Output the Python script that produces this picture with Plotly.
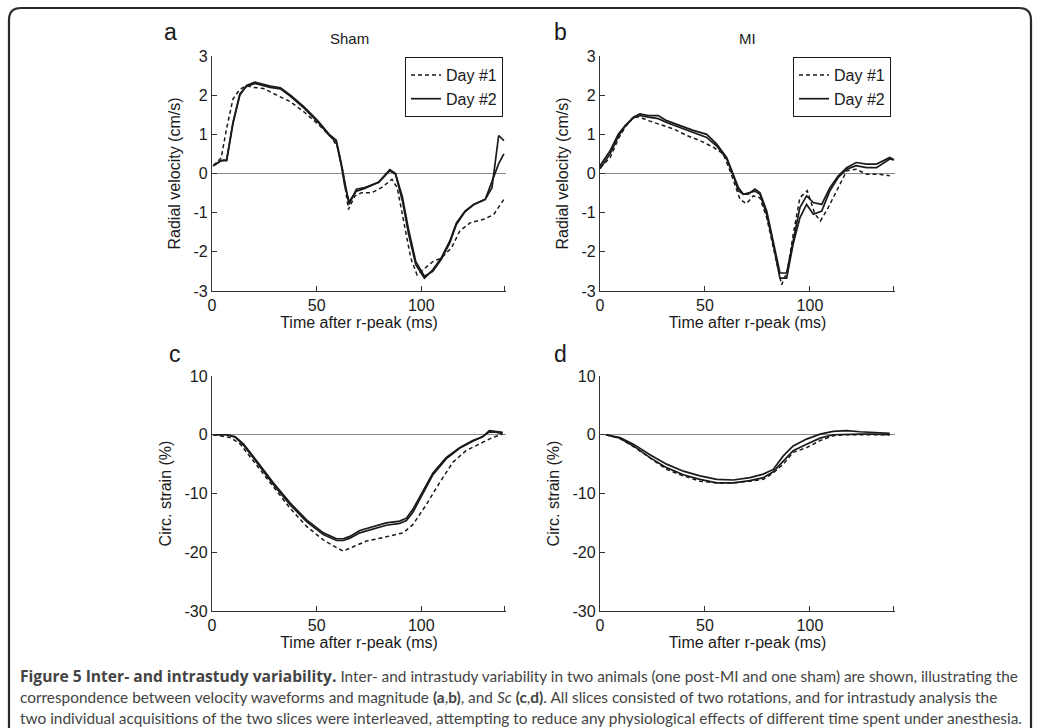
import plotly.graph_objects as go

W, H = 1040, 728

# ---------------- data ----------------
# Panel a (Sham, radial velocity, cm/s)
a_d1_x = [0.6, 4.4, 6.8, 10, 13.3, 16.5, 19.7, 24.6, 31, 37.5, 44, 50.5, 57, 60, 62.5, 65.2, 68.3, 71.5, 76.4, 81, 86, 88.5, 91.6, 95, 98, 101.5, 105.5, 109.5, 114.4, 118.4, 123.3, 129.8, 134.6, 139.5]
a_d1_y = [0.2, 0.4, 1.1, 1.9, 2.15, 2.24, 2.2, 2.17, 2.0, 1.83, 1.57, 1.27, 0.93, 0.67, 0.07, -0.92, -0.57, -0.49, -0.49, -0.36, -0.15, -0.36, -1.22, -2.16, -2.59, -2.42, -2.25, -2.16, -1.9, -1.47, -1.26, -1.17, -1.05, -0.66]
a_s_x = [0.6, 4.4, 7, 10, 13.3, 16.5, 20.5, 24.6, 27.8, 32.7, 37.5, 44, 50.5, 56, 59.4, 61.8, 63.4, 65.5, 69, 73, 79.6, 85, 87.7, 91, 94, 97.4, 101.5, 105.5, 109.5, 113.6, 116.8, 120.9, 125, 130.6, 133.8, 137, 139.5]
a_s1_y = [0.2, 0.33, 0.33, 1.27, 2.0, 2.25, 2.33, 2.27, 2.23, 2.19, 2.0, 1.7, 1.35, 1.0, 0.85, 0.25, -0.23, -0.79, -0.4, -0.36, -0.23, 0.07, -0.02, -0.7, -1.56, -2.33, -2.67, -2.46, -2.16, -1.73, -1.26, -0.96, -0.79, -0.66, -0.36, 0.97, 0.84]
a_s2_y = [0.2, 0.33, 0.35, 1.3, 2.03, 2.22, 2.3, 2.25, 2.2, 2.16, 1.97, 1.67, 1.32, 0.97, 0.8, 0.2, -0.3, -0.72, -0.45, -0.38, -0.22, 0.1, 0.0, -0.6, -1.45, -2.25, -2.62, -2.5, -2.2, -1.78, -1.3, -0.98, -0.8, -0.66, -0.2, 0.25, 0.5]

# Panel b (MI, radial velocity, cm/s)
b_d1_x = [0, 4.8, 8.7, 11.9, 15.9, 19, 23, 27.8, 34.9, 41.3, 47.6, 54, 58.7, 61.9, 64.3, 66.7, 69.8, 73, 76.2, 79.4, 83.3, 86.5, 89.2, 92, 95.2, 98.7, 102.4, 105, 108.7, 112.7, 117.5, 122, 127, 133, 138]
b_d1_y = [0.15, 0.4, 0.88, 1.18, 1.44, 1.44, 1.35, 1.27, 1.14, 0.97, 0.84, 0.67, 0.5, 0.07, -0.27, -0.66, -0.77, -0.57, -0.62, -1.13, -2.07, -2.84, -2.5, -1.56, -0.62, -0.44, -1.04, -1.21, -0.87, -0.44, 0.07, 0.11, -0.02, -0.02, -0.06]
b_s_x = [0, 4.8, 8.7, 11.9, 15.9, 19, 23, 27.8, 31.7, 38, 44.4, 50.8, 55.6, 60.3, 63.5, 65.9, 68.3, 70.6, 73.8, 76.2, 79.4, 82.5, 85.7, 88.9, 92, 95.2, 98.4, 101.6, 105.6, 109.5, 113.5, 117.5, 122, 127, 131.7, 138, 140]
b_s1_y = [0.2, 0.58, 1.0, 1.22, 1.44, 1.52, 1.48, 1.48, 1.35, 1.22, 1.1, 1.0, 0.75, 0.41, -0.02, -0.36, -0.53, -0.53, -0.4, -0.49, -0.96, -1.73, -2.54, -2.54, -1.73, -0.87, -0.57, -0.74, -0.79, -0.36, -0.06, 0.15, 0.28, 0.24, 0.24, 0.41, 0.35]
b_s2_y = [0.12, 0.5, 0.95, 1.2, 1.42, 1.48, 1.44, 1.4, 1.3, 1.18, 1.05, 0.92, 0.7, 0.38, -0.06, -0.44, -0.53, -0.5, -0.45, -0.53, -1.05, -1.81, -2.67, -2.67, -1.8, -1.13, -0.79, -1.04, -0.96, -0.44, -0.1, 0.11, 0.2, 0.15, 0.15, 0.37, 0.35]

# Panel c (Sham, circumferential strain, %)
c_s_x = [0.5, 7.1, 11.1, 15.1, 21.4, 29.4, 37.3, 45.2, 53.2, 59.5, 62.7, 65.9, 70.6, 77, 83.3, 89.7, 92.9, 96, 100.8, 105.6, 111.9, 118.3, 124.6, 129.4, 132.5, 135.7, 138.9]
c_s1_y = [0, 0, -0.34, -1.6, -4.46, -8.2, -11.6, -14.5, -16.7, -17.7, -17.7, -17.3, -16.3, -15.6, -15.0, -14.7, -14.2, -12.7, -9.6, -6.5, -3.9, -2.2, -1.0, -0.34, 0.69, 0.57, 0.4]
c_s2_y = [0, 0, -0.4, -1.8, -4.7, -8.5, -11.9, -14.8, -17.0, -18.0, -18.0, -17.6, -16.7, -16.0, -15.4, -15.1, -14.6, -13.2, -10.0, -6.8, -4.1, -2.3, -1.1, -0.3, 0.5, 0.45, 0.2]
c_d1_x = [0.5, 8.7, 13.5, 19.8, 29.4, 37.3, 45.2, 53.2, 59.5, 62.7, 65.9, 73.8, 81.7, 91.3, 96, 102.4, 108.7, 115.1, 121.4, 127.8, 134.1, 138.9]
c_d1_y = [0, -0.46, -1.6, -4.5, -9.0, -12.5, -15.6, -17.9, -19.2, -19.8, -19.3, -18.1, -17.5, -16.7, -15.3, -11.9, -8.2, -4.7, -2.7, -1.6, -0.46, 0.1]

# Panel d (MI, circumferential strain, %)
d_x = [2.8, 9.5, 15.9, 23.8, 31.7, 39.7, 47.6, 55.6, 63.5, 71.4, 77.8, 82.5, 87.3, 92, 98.4, 104.8, 111, 117.5, 123.8, 130.2, 138]
d_s1_y = [0, -0.46, -1.6, -3.4, -5.0, -6.2, -7.0, -7.6, -7.7, -7.3, -6.7, -5.9, -3.6, -1.9, -0.74, 0.11, 0.57, 0.69, 0.51, 0.4, 0.23]
d_s2_y = [0, -0.6, -1.9, -3.9, -5.6, -6.8, -7.6, -8.2, -8.2, -7.8, -7.3, -6.3, -4.5, -2.7, -1.6, -0.57, 0.0, 0.11, 0.11, 0.11, 0.0]
d_d1_y = [0, -0.65, -2.0, -4.0, -5.9, -7.0, -7.9, -8.2, -8.2, -7.9, -7.6, -6.5, -5.0, -3.0, -2.2, -1.0, -0.17, 0.0, 0.0, 0.0, 0.0]

x_ticks = [0, 50, 100, 140]
x_ticktext = ["0", "50", "100", ""]
vel_ticks = [-3, -2, -1, 0, 1, 2, 3]
vel_ticktext = ["-3", "-2", "-1", "0", "1", "2", "3"]
str_ticks = [-30, -20, -10, 0, 10]
str_ticktext = ["-30", "-20", "-10", "0", "10"]

series_names = ["Day #1", "Day #2"]
panel_titles = ["Sham", "MI"]
panel_letters = ["a", "b", "c", "d"]
x_title = "Time after r-peak (ms)"
y_titles = ["Radial velocity (cm/s)", "Circ. strain (%)"]

caption_lines = [
    "<span style=\"font-family:Open Sans;font-size:15.6px\"><b>Figure 5 Inter- and intrastudy variability.</b></span> Inter- and intrastudy variability in two animals (one post-MI and one sham) are shown, illustrating the",
    "correspondence between velocity waveforms and magnitude <b>(a</b>,<b>b)</b>, and <i>Sc</i> <b>(c</b>,<b>d)</b>. All slices consisted of two rotations, and for intrastudy analysis the",
    "two individual acquisitions of the two slices were interleaved, attempting to reduce any physiological effects of different time spent under anesthesia.",
]

# ---------------- figure ----------------
INK = "#1a1a1a"
AX = "#333333"
FONT = "Liberation Sans, Arial, sans-serif"

def px_x(p):
    return p / W

def px_y(p):
    return 1 - p / H

col_x = [(212, 506), (600, 895)]
row_y = [(56, 291), (376, 611)]

fig = go.Figure()

panels = [
    ("x", "y", a_d1_x, a_d1_y, a_s_x, a_s1_y, a_s2_y, "legend"),
    ("x2", "y2", b_d1_x, b_d1_y, b_s_x, b_s1_y, b_s2_y, "legend2"),
    ("x3", "y3", c_d1_x, c_d1_y, c_s_x, c_s1_y, c_s2_y, None),
    ("x4", "y4", d_x, d_d1_y, d_x, d_s1_y, d_s2_y, None),
]

for xa, ya, dx, dy, sx, s1, s2, leg in panels:
    show = leg is not None
    kw = dict(legend=leg) if show else {}
    fig.add_trace(go.Scatter(x=dx, y=dy, mode="lines", xaxis=xa, yaxis=ya,
                             name=series_names[0], showlegend=show,
                             line=dict(color=INK, width=1.5, dash="4px,3px"), **kw))
    fig.add_trace(go.Scatter(x=sx, y=s1, mode="lines", xaxis=xa, yaxis=ya,
                             name=series_names[1], showlegend=show,
                             line=dict(color=INK, width=1.7), **kw))
    fig.add_trace(go.Scatter(x=sx, y=s2, mode="lines", xaxis=xa, yaxis=ya,
                             name=series_names[1], showlegend=False,
                             line=dict(color=INK, width=1.7)))

axis_common = dict(showline=True, linecolor=AX, linewidth=1.3, ticks="inside",
                   ticklen=5, tickwidth=1.2, tickcolor=AX, showgrid=False,
                   automargin=False,
                   tickfont=dict(family=FONT, size=16, color=INK))

layout = dict(width=W, height=H,
              margin=dict(l=0, r=0, t=0, b=0, pad=0, autoexpand=False),
              paper_bgcolor="white", plot_bgcolor="white",
              font=dict(family=FONT, color=INK))

for i in range(4):
    r, c = divmod(i, 2)
    sfx = "" if i == 0 else str(i + 1)
    xd = [px_x(col_x[c][0]), px_x(col_x[c][1])]
    yd = [px_y(row_y[r][1]), px_y(row_y[r][0])]
    layout["xaxis" + sfx] = dict(axis_common, domain=xd, range=[0, 140.5],
                                 tickvals=x_ticks, ticktext=x_ticktext,
                                 zeroline=False, anchor="y" + sfx,
                                 title=dict(text=x_title, standoff=1,
                                            font=dict(family=FONT, size=16, color=INK)))
    if r == 0:
        yr, tv, tt = [-3, 3], vel_ticks, vel_ticktext
    else:
        yr, tv, tt = [-30, 10], str_ticks, str_ticktext
    layout["yaxis" + sfx] = dict(axis_common, domain=yd, range=yr, tickvals=tv,
                                 ticktext=tt, zeroline=True, zerolinecolor="#8a8a8a",
                                 zerolinewidth=1.2, anchor="x" + sfx,
                                 title=dict(text=y_titles[r], standoff=8,
                                            font=dict(family=FONT, size=16, color=INK)))

leg_common = dict(bgcolor="white", bordercolor=INK, borderwidth=1,
                  font=dict(family=FONT, size=16, color=INK),
                  xanchor="right", yanchor="top", tracegroupgap=0,
                  itemwidth=30)
layout["legend"] = dict(leg_common, x=px_x(503), y=px_y(57))
layout["legend2"] = dict(leg_common, x=px_x(891), y=px_y(57))

fig.update_layout(**layout)

annos = []
# panel titles
annos.append(dict(text=panel_titles[0], x=px_x(349), y=px_y(38), xref="paper", yref="paper",
                  xanchor="center", yanchor="middle",
                  showarrow=False, font=dict(family=FONT, size=15, color=INK)))
annos.append(dict(text=panel_titles[1], x=px_x(747), y=px_y(38), xref="paper", yref="paper",
                  xanchor="center", yanchor="middle",
                  showarrow=False, font=dict(family=FONT, size=15, color=INK)))
letter_pos = [(170, 32), (560, 32), (175, 354), (560, 354)]
for L, (lx, ly) in zip(panel_letters, letter_pos):
    annos.append(dict(text=L, x=px_x(lx), y=px_y(ly), xref="paper", yref="paper",
                      xanchor="center", yanchor="middle",
                      showarrow=False, font=dict(family=FONT, size=23, color=INK)))
cap_y = [676, 697, 718]
for line, cy in zip(caption_lines, cap_y):
    annos.append(dict(text=line, x=px_x(18), y=px_y(cy), xref="paper", yref="paper",
                      xanchor="left", yanchor="middle", showarrow=False,
                      font=dict(family="Lato, Open Sans, sans-serif", size=15.4, color="#444444")))
fig.update_layout(annotations=annos)

# figure frame (rounded top corners)
def P(x, y):
    return f"{x / W:.5f},{1 - y / H:.5f}"

frame = (f"M {P(9, 728)} L {P(9, 20)} Q {P(9, 8)} {P(21, 8)} "
         f"L {P(1019, 8)} Q {P(1031, 8)} {P(1031, 20)} L {P(1031, 728)}")
fig.add_shape(type="path", path=frame, xref="paper", yref="paper",
              line=dict(color="#2a2a2a", width=2.2))

fig.write_html("out.html", config={"displayModeBar": False},
               post_script="document.body.style.margin='0';document.body.style.overflow='hidden';")
